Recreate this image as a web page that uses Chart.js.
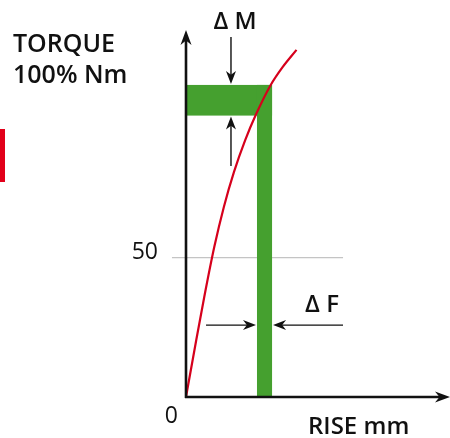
<!DOCTYPE html>
<html>
<head>
<meta charset="utf-8">
<script src="https://cdn.jsdelivr.net/npm/chart.js@4"></script>
<style>
  html, body { margin: 0; padding: 0; background: #fff; }
  canvas { display: block; }
</style>
</head>
<body>
<canvas id="chart" width="450" height="438"></canvas>
<script>
// rise (arbitrary mm units) vs torque (%)
const rise = [0, 0.346, 0.702, 1.087, 1.456, 1.846, 2.277, 2.681, 3.258, 3.715, 4.25];
const torque = [0, 17.95, 35.9, 53.8, 68.2, 80.8, 92.2, 101.2, 112.0, 118.4, 124.6];

const yTicks = [0, 50];
const gridRange = [-0.54, 6.04];

const deltaM = [101, 112];     // torque band
const deltaF = [2.73, 3.31];   // rise band
const arrowMx = 1.73;
const arrowFy = 25.8;
const arrowMOuter = [82.9, 129.2];
const arrowFOuter = [0.77, 6.04];

const GREEN = "#45a02f";
const RED = "#d6001c";
const FONT = "'Open Sans', 'Noto Sans', sans-serif";

function arrowHead(ctx, x, y, dir, len, half) {
  // dir: angle in radians the arrow points to
  ctx.save();
  ctx.translate(x, y);
  ctx.rotate(dir);
  ctx.beginPath();
  ctx.moveTo(0, 0);
  ctx.lineTo(-len, -half);
  ctx.lineTo(-len * 0.7, 0);
  ctx.lineTo(-len, half);
  ctx.closePath();
  ctx.fill();
  ctx.restore();
}

const decor = {
  id: "decor",
  beforeDatasetsDraw(chart) {
    const { ctx, scales: { x, y } } = chart;
    ctx.save();
    // grid line at 50
    ctx.strokeStyle = "#c4c4c4";
    ctx.lineWidth = 1.2;
    ctx.beginPath();
    ctx.moveTo(x.getPixelForValue(gridRange[0]), y.getPixelForValue(50));
    ctx.lineTo(x.getPixelForValue(gridRange[1]), y.getPixelForValue(50));
    ctx.stroke();

    // green bands
    ctx.fillStyle = GREEN;
    const x0 = x.getPixelForValue(0);
    const fl = x.getPixelForValue(deltaF[0]);
    const fr = x.getPixelForValue(deltaF[1]);
    const mt = y.getPixelForValue(deltaM[1]);
    const mb = y.getPixelForValue(deltaM[0]);
    const y0 = y.getPixelForValue(0);
    ctx.fillRect(x0, mt, fr - x0, mb - mt);
    ctx.fillRect(fl, mt, fr - fl, y0 - mt);
    ctx.restore();
  },
  afterDatasetsDraw(chart) {
    const { ctx, scales: { x, y } } = chart;
    const x0 = x.getPixelForValue(0);
    const y0 = y.getPixelForValue(0);
    ctx.save();
    ctx.strokeStyle = "#111";
    ctx.fillStyle = "#111";

    // axes
    ctx.lineWidth = 2.6;
    ctx.beginPath();
    ctx.moveTo(x0, y0 + 1);
    ctx.lineTo(x0, chart.chartArea.top + 8);
    ctx.moveTo(x0 - 1, y0);
    ctx.lineTo(chart.width - 8, y0);
    ctx.stroke();
    arrowHead(ctx, x0, chart.chartArea.top - 2, -Math.PI / 2, 15, 5.5);
    arrowHead(ctx, chart.width, y0, 0, 15, 5.5);

    // delta M arrows
    ctx.lineWidth = 1.4;
    const ax = x.getPixelForValue(arrowMx);
    const mt = y.getPixelForValue(deltaM[1]);
    const mb = y.getPixelForValue(deltaM[0]);
    ctx.beginPath();
    ctx.moveTo(ax, y.getPixelForValue(arrowMOuter[1]));
    ctx.lineTo(ax, mt - 6);
    ctx.moveTo(ax, y.getPixelForValue(arrowMOuter[0]));
    ctx.lineTo(ax, mb + 6);
    ctx.stroke();
    arrowHead(ctx, ax, mt - 1, Math.PI / 2, 13, 5);
    arrowHead(ctx, ax, mb + 1, -Math.PI / 2, 13, 5);

    // delta F arrows
    const ay = y.getPixelForValue(arrowFy);
    const fl = x.getPixelForValue(deltaF[0]);
    const fr = x.getPixelForValue(deltaF[1]);
    ctx.beginPath();
    ctx.moveTo(x.getPixelForValue(arrowFOuter[0]), ay);
    ctx.lineTo(fl - 6, ay);
    ctx.moveTo(x.getPixelForValue(arrowFOuter[1]), ay);
    ctx.lineTo(fr + 6, ay);
    ctx.stroke();
    arrowHead(ctx, fl - 1, ay, 0, 13, 5);
    arrowHead(ctx, fr + 1, ay, Math.PI, 13, 5);

    // labels
    ctx.fillStyle = "#111";
    ctx.textBaseline = "alphabetic";
    ctx.font = `600 25px ${FONT}`;
    ctx.textAlign = "left";
    ctx.fillText("TORQUE", 13, 52);
    ctx.fillText("100% Nm", 13, 83);
    ctx.font = `600 24px ${FONT}`;
    ctx.fillText("RISE mm", 308, 434);
    ctx.textAlign = "center";
    ctx.fillText("\u0394 M", ax + 4, 29);
    ctx.fillText("\u0394 F", 322, 312);

    ctx.font = `400 23px ${FONT}`;
    ctx.textAlign = "right";
    yTicks.forEach((t) => {
      const py = y.getPixelForValue(t);
      if (t === 0) ctx.fillText(String(t), x0 - 8, py + 26);
      else ctx.fillText(String(t), x0 - 28, py + 1);
    });

    // red marker at left edge
    ctx.fillStyle = "#e2001a";
    ctx.fillRect(0, 129, 5, 53);
    ctx.restore();
  },
};

new Chart(document.getElementById("chart"), {
  type: "scatter",
  data: {
    datasets: [
      {
        data: rise.map((r, i) => ({ x: r, y: torque[i] })),
        showLine: true,
        borderColor: RED,
        borderWidth: 2.2,
        pointRadius: 0,
        cubicInterpolationMode: "monotone",
      },
    ],
  },
  options: {
    responsive: false,
    animation: false,
    layout: { padding: { left: 186, right: 4, top: 32, bottom: 41 } },
    plugins: { legend: { display: false }, tooltip: { enabled: false } },
    scales: {
      x: { type: "linear", min: 0, max: 10, display: false },
      y: { type: "linear", min: 0, max: 131, display: false },
    },
  },
  plugins: [decor],
});
</script>
</body>
</html>
